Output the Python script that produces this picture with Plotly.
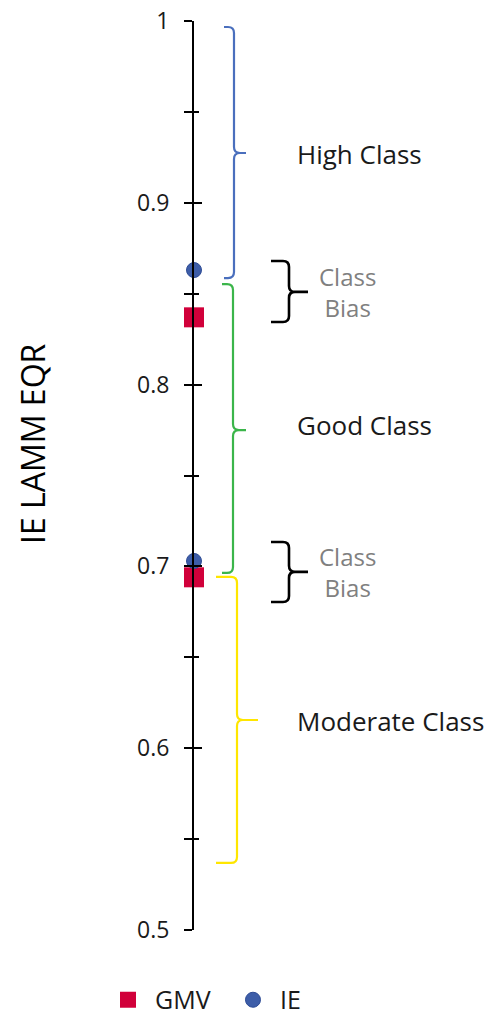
import plotly.graph_objects as go

# ---- data ----
gmv_eqr = [0.837, 0.694]
ie_eqr = [0.863, 0.703]

class_names = ["High Class", "Good Class", "Moderate Class"]
class_low = [0.8586, 0.6964, 0.5369]
class_high = [0.9967, 0.8553, 0.6942]
class_mid = [0.9274, 0.775, 0.6155]
class_label_y = [0.927, 0.778, 0.6147]
class_colors = ["#4a6fbd", "#3bb54a", "#ffe600"]

bias_low = [0.8344, 0.6804]
bias_high = [0.868, 0.7134]
bias_mid = [0.851, 0.697]

y_ticks = [0.5, 0.6, 0.7, 0.8, 0.9, 1.0]
y_tick_text = ["0.5", "0.6", "0.7", "0.8", "0.9", "1"]

FONT = "Open Sans"

fig = go.Figure()

# brace geometry (x in pixel-like units from the axis line)
class_x = [(30, 40, 52), (28, 39, 52), (22, 43, 64)]
bias_x = (77, 95, 114)
R = 6
DY = 6 / 1818.0


def brace(xe, xv, xt, y0, y1, ym):
    return (f"M {xe},{y1} L {xv-R},{y1} Q {xv},{y1} {xv},{y1-DY} "
            f"L {xv},{ym+DY} Q {xv},{ym} {xv+R},{ym} L {xt},{ym} "
            f"M {xv+R},{ym} Q {xv},{ym} {xv},{ym-DY} "
            f"L {xv},{y0+DY} Q {xv},{y0} {xv-R},{y0} L {xe},{y0}")


for i in range(3):
    xe, xv, xt = class_x[i]
    fig.add_shape(type="path", xref="x", yref="y",
                  path=brace(xe, xv, xt, class_low[i], class_high[i], class_mid[i]),
                  line=dict(color=class_colors[i], width=2.2))
    fig.add_annotation(x=101, y=class_label_y[i], xref="x", yref="y",
                       text=class_names[i], showarrow=False, xanchor="left",
                       yanchor="middle",
                       font=dict(family=FONT, size=26, color="#1a1a1a"))

for i in range(2):
    xe, xv, xt = bias_x
    fig.add_shape(type="path", xref="x", yref="y",
                  path=brace(xe, xv, xt, bias_low[i], bias_high[i], bias_mid[i]),
                  line=dict(color="black", width=2.6))
    fig.add_annotation(x=153, y=bias_mid[i], xref="x", yref="y",
                       text="Class<br>Bias", showarrow=False, xanchor="center",
                       yanchor="middle",
                       font=dict(family=FONT, size=24, color="#808080"))

fig.add_trace(go.Scatter(
    x=[0] * len(gmv_eqr), y=gmv_eqr, mode="markers", name="GMV",
    marker=dict(symbol="square", size=20, color="#d1003a"),
    cliponaxis=False))
fig.add_trace(go.Scatter(
    x=[0] * len(ie_eqr), y=ie_eqr, mode="markers", name="IE", yaxis="y2",
    marker=dict(symbol="circle", size=15, color="#3d5da8",
                line=dict(color="#2d4b95", width=1)),
    cliponaxis=False))

fig.add_annotation(x=-0.533, y=0.5347, xref="paper", yref="paper",
                   text="IE LAMM EQR", textangle=-90, showarrow=False,
                   xanchor="center", yanchor="middle",
                   font=dict(family=FONT, size=32, color="black"))

fig.update_layout(
    width=496, height=1018,
    margin=dict(l=194, r=0, t=21, b=88, autoexpand=False),
    paper_bgcolor="white", plot_bgcolor="white",
    font=dict(family=FONT, color="black"),
    showlegend=True,
    legend=dict(orientation="h", x=-0.308, xanchor="left", y=-0.077,
                yanchor="middle", font=dict(family=FONT, size=25, color="#1a1a1a"),
                itemwidth=44, entrywidth=66, tracegroupgap=0),
    xaxis=dict(range=[0, 302], visible=False, fixedrange=True, automargin=False),
    yaxis=dict(range=[0.5, 1.0], tickvals=y_ticks, ticktext=y_tick_text,
               showline=True, linecolor="black", linewidth=2, automargin=False,
               ticks="outside", ticklen=8, tickwidth=2, tickcolor="black",
               minor=dict(dtick=0.05, ticks="outside", ticklen=8, tickwidth=2, tickcolor="black"),
               showgrid=False, zeroline=False, ticklabelstandoff=10,
               ticklabeloverflow="allow",
               tickfont=dict(family=FONT, size=23, color="#1a1a1a")),
    yaxis2=dict(overlaying="y", matches="y", anchor="x", side="left",
                range=[0.5, 1.0], tickvals=y_ticks, showticklabels=False,
                automargin=False,
                ticks="inside", ticklen=8, tickwidth=2, tickcolor="black",
                minor=dict(dtick=0.05, ticks="inside", ticklen=5, tickwidth=2, tickcolor="black"),
                showline=False, showgrid=False, zeroline=False),
)

fig.write_html("out.html",
               config={"displayModeBar": False},
               post_script="document.body.style.margin='0px';document.body.style.overflow='hidden';")
